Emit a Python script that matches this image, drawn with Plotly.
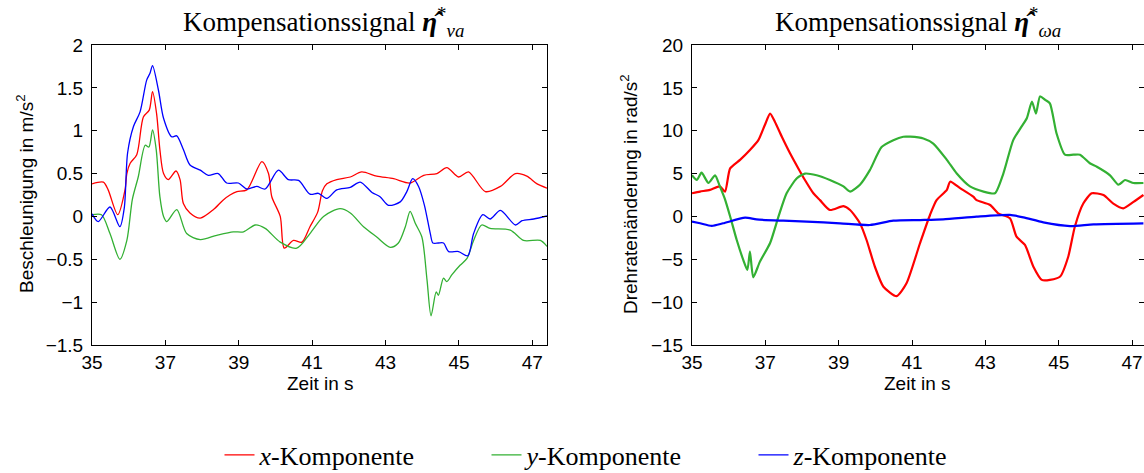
import plotly.graph_objects as go

# ---------------- data: left panel (acceleration compensation, m/s^2) ----------------
t_va_x = [35.0, 35.31, 35.44, 35.70, 35.90, 35.95, 36.04, 36.22, 36.40, 36.56, 36.65, 36.76, 36.85,
          36.95, 37.08, 37.29, 37.40, 37.49, 37.67, 37.95, 38.31, 38.57, 38.76, 38.95, 39.22, 39.63,
          39.81, 39.90, 40.13, 40.24, 40.49, 40.72, 40.94, 41.15, 41.28, 41.40, 41.67, 42.04, 42.35,
          42.76, 43.22, 43.67, 44.04, 44.40, 44.67, 44.99, 45.26, 45.72, 46.13, 46.54, 46.85, 47.13, 47.40]
v_va_x = [0.38, 0.40, 0.31, 0.02, 0.31, 0.50, 0.62, 0.72, 1.16, 1.24, 1.455, 1.20, 0.78,
          0.50, 0.43, 0.53, 0.43, 0.15, 0.04, -0.02, 0.08, 0.19, 0.25, 0.29, 0.31, 0.64,
          0.50, 0.23, 0.00, -0.37, -0.28, -0.30, -0.12, 0.05, 0.30, 0.38, 0.43, 0.46, 0.52,
          0.47, 0.44, 0.39, 0.48, 0.50, 0.57, 0.46, 0.52, 0.29, 0.35, 0.50, 0.47, 0.38, 0.33]

t_va_y = [35.0, 35.26, 35.49, 35.76, 35.95, 36.10, 36.26, 36.45, 36.55, 36.65, 36.75, 36.85, 36.95,
          37.04, 37.31, 37.58, 37.95, 38.40, 38.85, 39.13, 39.45, 39.72, 40.13, 40.58, 40.94, 41.31,
          41.76, 42.04, 42.40, 42.76, 43.13, 43.35, 43.54, 43.67, 43.81, 43.99, 44.13, 44.24, 44.38,
          44.44, 44.58, 44.67, 44.81, 45.03, 45.22, 45.40, 45.62, 45.85, 46.40, 46.76, 47.22, 47.40]
v_va_y = [0.02, 0.02, -0.20, -0.50, -0.28, 0.20, 0.46, 0.83, 0.81, 1.01, 0.78, 0.23, 0.00,
          -0.06, 0.08, -0.20, -0.27, -0.22, -0.18, -0.18, -0.10, -0.14, -0.30, -0.37, -0.20, 0.00,
          0.09, 0.04, -0.12, -0.24, -0.36, -0.31, -0.12, 0.06, -0.08, -0.24, -0.74, -1.16, -0.88,
          -0.92, -0.72, -0.76, -0.68, -0.57, -0.49, -0.28, -0.10, -0.14, -0.16, -0.28, -0.28, -0.35]

t_va_z = [35.0, 35.17, 35.49, 35.76, 35.88, 35.97, 36.13, 36.31, 36.49, 36.58, 36.65, 36.81, 36.95,
          37.17, 37.31, 37.49, 37.67, 37.95, 38.17, 38.44, 38.67, 38.99, 39.22, 39.49, 39.72, 40.08,
          40.35, 40.63, 40.94, 41.17, 41.40, 41.67, 42.04, 42.31, 42.63, 42.85, 43.08, 43.40, 43.58,
          43.74, 43.90, 44.06, 44.22, 44.29, 44.44, 44.58, 44.72, 44.99, 45.24, 45.40, 45.65, 45.85,
          46.13, 46.54, 46.72, 47.04, 47.40]
v_va_z = [0.03, -0.06, 0.11, -0.12, 0.10, 0.74, 1.05, 1.22, 1.59, 1.67, 1.76, 1.475, 1.145,
          0.93, 0.94, 0.78, 0.60, 0.54, 0.48, 0.50, 0.39, 0.39, 0.32, 0.35, 0.32, 0.54,
          0.43, 0.42, 0.26, 0.27, 0.21, 0.31, 0.34, 0.40, 0.28, 0.23, 0.13, 0.17, 0.29,
          0.44, 0.35, 0.13, -0.20, -0.31, -0.31, -0.31, -0.41, -0.41, -0.46, -0.20, 0.02, -0.03,
          0.07, -0.10, -0.05, -0.03, 0.005]

# ---------------- data: right panel (angular rate change, rad/s^2) ----------------
t_wa_x = [35.0, 35.22, 35.49, 35.76, 35.90, 36.04, 36.31, 36.58, 36.81, 36.99, 37.13, 37.26, 37.45,
          37.67, 37.90, 38.08, 38.31, 38.49, 38.76, 39.13, 39.31, 39.58, 39.76, 39.99, 40.22, 40.58,
          40.85, 41.22, 41.49, 41.67, 41.95, 42.04, 42.31, 42.67, 42.76, 43.13, 43.35, 43.67, 43.85,
          44.08, 44.31, 44.54, 44.76, 45.04, 45.26, 45.44, 45.67, 45.90, 46.22, 46.49, 46.76, 47.04, 47.31]
v_wa_x = [2.7, 2.9, 3.1, 3.5, 2.9, 5.6, 6.6, 7.75, 8.9, 10.7, 12.0, 11.05, 9.3,
          7.4, 5.6, 4.25, 2.7, 1.9, 0.75, 1.2, 0.75, -0.8, -2.75, -5.9, -8.2, -9.3,
          -7.8, -3.1, 0.17, 1.9, 3.1, 4.05, 3.3, 2.3, 1.9, 1.33, 0.36, -0.22, -2.36,
          -3.33, -5.86, -7.4, -7.4, -7.0, -4.7, -1.2, 1.5, 2.7, 2.5, 1.5, 0.95, 1.7, 2.5]

t_wa_y = [35.0, 35.13, 35.26, 35.45, 35.63, 35.76, 35.90, 36.04, 36.22, 36.40, 36.51, 36.58, 36.67,
          36.85, 37.13, 37.36, 37.58, 37.86, 38.08, 38.40, 38.76, 39.13, 39.31, 39.58, 39.85, 40.17,
          40.49, 40.76, 40.95, 41.31, 41.58, 41.95, 42.22, 42.58, 42.95, 43.26, 43.49, 43.76, 43.99,
          44.13, 44.27, 44.38, 44.49, 44.63, 44.76, 44.94, 45.17, 45.40, 45.58, 45.85, 46.04, 46.40,
          46.63, 46.81, 47.04, 47.31]
v_wa_y = [4.8, 4.25, 5.1, 3.9, 4.8, 3.5, 2.0, 0.0, -2.75, -5.1, -6.25, -4.1, -7.1,
          -5.3, -3.1, 0.0, 2.7, 4.45, 5.0, 4.8, 4.25, 3.5, 2.9, 3.7, 5.4, 8.1,
          8.9, 9.3, 9.3, 9.1, 8.5, 6.6, 5.0, 3.5, 2.9, 2.7, 5.0, 8.9, 10.5,
          11.45, 13.4, 12.0, 14.0, 13.6, 13.2, 9.7, 7.2, 7.2, 7.2, 6.2, 5.8, 4.8,
          3.7, 4.25, 3.9, 3.9]

t_wa_z = [35.0, 35.22, 35.54, 35.85, 36.45, 36.76, 37.49, 38.13, 39.04, 39.85, 40.49, 41.22, 41.85,
          42.76, 43.67, 44.04, 44.58, 45.31, 45.95, 47.31]
v_wa_z = [-0.6, -0.8, -1.1, -0.8, -0.15, -0.35, -0.5, -0.6, -0.8, -1.0, -0.5, -0.42, -0.34,
          -0.03, 0.17, -0.11, -0.69, -1.12, -0.92, -0.8]

x_ticks = [35, 37, 39, 41, 43, 45, 47]
y1_ticks = [-1.5, -1, -0.5, 0, 0.5, 1, 1.5, 2]
y1_labels = ["\u22121.5", "\u22121", "\u22120.5", "0", "0.5", "1", "1.5", "2"]
y2_ticks = [-15, -10, -5, 0, 5, 10, 15, 20]
y2_labels = ["\u221215", "\u221210", "\u22125", "0", "5", "10", "15", "20"]

names = ["<i>x</i>-Komponente", "<i>y</i>-Komponente", "<i>z</i>-Komponente"]
colors = ["#ff0000", "#33b033", "#0000ff"]

W, H = 1144, 473
SANS = "Liberation Sans, Arial, Helvetica, sans-serif"
SERIF = "Liberation Serif, Times New Roman, serif"

fig = go.Figure()
left = [(t_va_x, v_va_x), (t_va_y, v_va_y), (t_va_z, v_va_z)]
right = [(t_wa_x, v_wa_x), (t_wa_y, v_wa_y), (t_wa_z, v_wa_z)]
for i, (t, v) in enumerate(left):
    fig.add_trace(go.Scatter(x=t, y=v, mode="lines", name=names[i],
                             line=dict(color=colors[i], width=1.3, shape="spline", smoothing=0.8),
                             xaxis="x", yaxis="y", showlegend=True))
for i, (t, v) in enumerate(right):
    fig.add_trace(go.Scatter(x=t, y=v, mode="lines", name=names[i],
                             line=dict(color=colors[i], width=2.2, shape="spline", smoothing=0.6),
                             xaxis="x2", yaxis="y2", showlegend=False))

ax_common = dict(showline=True, linecolor="black", linewidth=1, mirror="allticks",
                 ticks="inside", ticklen=5, tickcolor="black", showgrid=False, zeroline=False,
                 automargin=False,
                 tickfont=dict(family=SANS, size=19, color="black"))

ydom = [1 - 345 / H, 1 - 45 / H]
fig.update_layout(
    width=W, height=H, autosize=False,
    margin=dict(l=0, r=0, t=0, b=0, autoexpand=False),
    plot_bgcolor="white", paper_bgcolor="white",
    xaxis=dict(domain=[92 / W, 547 / W], range=[35, 47.4], tickvals=x_ticks, anchor="y",
               ticklabelstandoff=0, **ax_common),
    yaxis=dict(domain=ydom, range=[-1.5, 2], tickvals=y1_ticks, ticktext=y1_labels, anchor="x",
               ticklabelstandoff=4, **ax_common),
    xaxis2=dict(domain=[692 / W, 1.0], range=[35, 35 + 452 / 36.67], tickvals=x_ticks, anchor="y2",
                ticklabelstandoff=0, **ax_common),
    yaxis2=dict(domain=ydom, range=[-15, 20], tickvals=y2_ticks, ticktext=y2_labels, anchor="x2",
                ticklabelstandoff=4, **ax_common),
    legend=dict(orientation="h", x=620 / W, xanchor="center", y=(H - 455) / H, yanchor="middle",
                entrywidth=222, entrywidthmode="pixels",
                font=dict(family=SERIF, size=26, color="black"), bgcolor="rgba(0,0,0,0)"),
)

annots = [
    dict(text="Kompensationssignal <b><i>\u03b7\u0302</i></b><sup>*</sup><sub><i>va</i></sub>",
         x=323 / W, y=1 - 22 / H, font=dict(family=SERIF, size=27, color="black")),
    dict(text="Kompensationssignal <b><i>\u03b7\u0302</i></b><sup>*</sup><sub><i>\u03c9a</i></sub>",
         x=918 / W, y=1 - 22 / H, font=dict(family=SERIF, size=27, color="black")),
    dict(text="Zeit in s", x=320 / W, y=1 - 383 / H, font=dict(family=SANS, size=19, color="black")),
    dict(text="Zeit in s", x=918 / W, y=1 - 383 / H, font=dict(family=SANS, size=19, color="black")),
    dict(text="Beschleunigung in m/s<sup>2</sup>", x=25 / W, y=1 - 194 / H, textangle=-90,
         font=dict(family=SANS, size=19, color="black")),
    dict(text="Drehraten\u00e4nderung in rad/s<sup>2</sup>", x=629 / W, y=1 - 194 / H, textangle=-90,
         font=dict(family=SANS, size=19, color="black")),
]
for a in annots:
    fig.add_annotation(xref="paper", yref="paper", xanchor="center", yanchor="middle",
                       showarrow=False, **a)

fig.write_html("out.html")
